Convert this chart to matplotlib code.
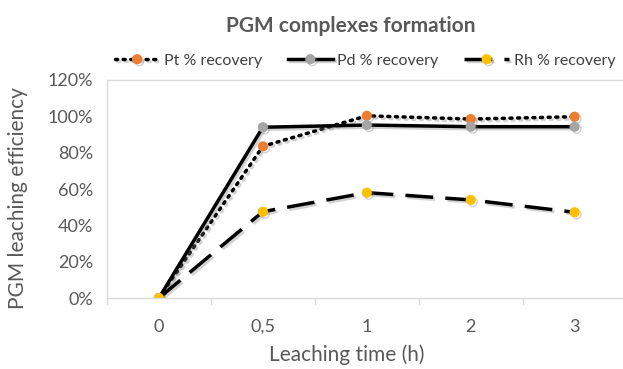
import matplotlib
matplotlib.use("Agg")
import matplotlib.pyplot as plt
import matplotlib.patheffects as pe
from matplotlib.ticker import PercentFormatter, FixedLocator

plt.rcParams['font.family'] = ['Lato', 'DejaVu Sans']

# data
times = ["0", "0,5", "1", "2", "3"]
pt_recovery = [0, 0.835, 1.003, 0.985, 0.998]
pd_recovery = [0, 0.94, 0.952, 0.943, 0.943]
rh_recovery = [0, 0.475, 0.58, 0.54, 0.472]

text_grey = "#595959"
axis_grey = "#D9D9D9"

fig = plt.figure(figsize=(6.23, 3.69), dpi=100)
ax = fig.add_axes([0.1717, 0.1924, 0.834, 0.5908])

x = list(range(len(times)))
shadow = [pe.SimpleLineShadow(offset=(1.5, -1.5), shadow_color="#808080", alpha=0.35), pe.Normal()]

ax.plot(x, pt_recovery, color="black", linestyle=(0, (0.6, 1.6)), linewidth=2.5,
        dash_capstyle="round", marker="o", markersize=6.3, markerfacecolor="#ED7D31",
        markeredgecolor="#ED7D31", label="Pt % recovery", path_effects=shadow)
ax.plot(x, pd_recovery, color="black", linestyle="-", linewidth=2.5,
        marker="o", markersize=6.3, markerfacecolor="#A5A5A5",
        markeredgecolor="#A5A5A5", label="Pd % recovery", path_effects=shadow)
ax.plot(x, rh_recovery, color="black", linestyle=(0, (8, 3.5)), linewidth=2.5,
        marker="o", markersize=6.3, markerfacecolor="#FFC000",
        markeredgecolor="#FFC000", label="Rh % recovery", path_effects=shadow)

ax.set_xlim(-0.5, len(times) - 0.5)
ax.set_ylim(0, 1.2)
ax.set_yticks([0, 0.2, 0.4, 0.6, 0.8, 1.0, 1.2])
ax.yaxis.set_major_formatter(PercentFormatter(1.0, decimals=0))
ax.set_xticks(x)
ax.set_xticklabels(times)
ax.xaxis.set_minor_locator(FixedLocator([i - 0.5 for i in range(len(times) + 1)]))

ax.tick_params(axis="x", which="major", length=0, pad=15, labelsize=13, labelcolor=text_grey)
ax.tick_params(axis="x", which="minor", length=5, width=1, color=axis_grey)
ax.tick_params(axis="y", length=0, pad=10, labelsize=13, labelcolor=text_grey)

for side in ["top", "left", "bottom"]:
    ax.spines[side].set_color(axis_grey)
    ax.spines[side].set_linewidth(1)
ax.spines["right"].set_visible(False)

ax.set_xlabel("Leaching time (h)", fontsize=15, color=text_grey)
ax.set_ylabel("PGM leaching efficiency", fontsize=15, color=text_grey)
ax.xaxis.set_label_coords(0.462, -0.215)
ax.yaxis.set_label_coords(-0.152, 0.459)

fig.text(0.563, 0.913, "PGM complexes formation", ha="center", va="baseline",
         fontsize=15, fontweight="bold", color=text_grey)

leg = fig.legend(loc="center", bbox_to_anchor=(0.586, 0.8355), ncol=3, frameon=False,
                 fontsize=11.5, handlelength=2.8, columnspacing=1.6, handletextpad=0.3)
for t in leg.get_texts():
    t.set_color("#404040")

fig.savefig("out.png", dpi=100)
